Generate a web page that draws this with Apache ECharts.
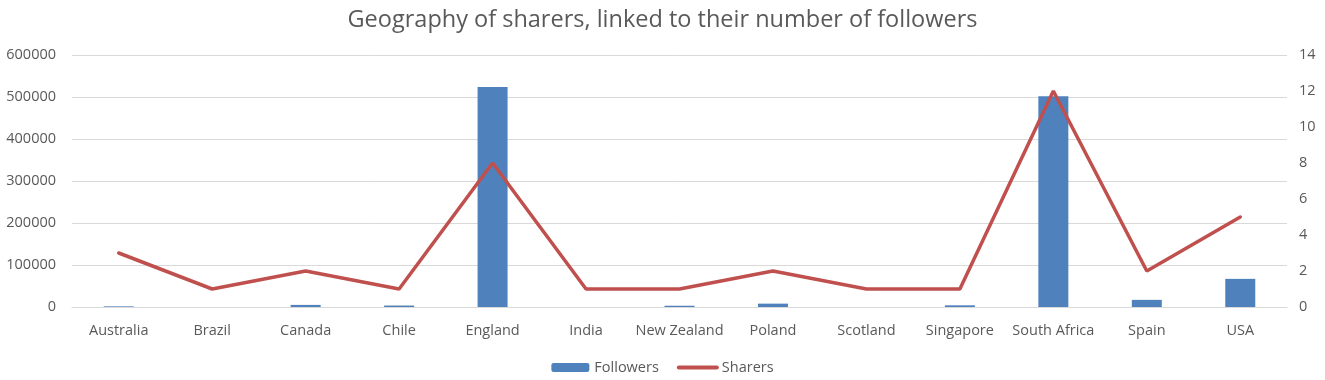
<!DOCTYPE html>
<html>
<head>
<meta charset="utf-8">
<script src="https://cdn.jsdelivr.net/npm/echarts@6/dist/echarts.min.js"></script>
<style>
  html, body { margin: 0; padding: 0; background: #fff; }
  #chart { width: 1325px; height: 380px; }
</style>
</head>
<body>
<div id="chart"></div>
<script>
// categories
var countries = ['Australia', 'Brazil', 'Canada', 'Chile', 'England', 'India', 'New Zealand',
    'Poland', 'Scotland', 'Singapore', 'South Africa', 'Spain', 'USA'];
// followers (left axis)
var followers = [1500, 0, 5000, 3500, 524000, 0, 3000, 8000, 0, 4000, 502000, 17000, 67000];
// sharers (right axis)
var sharers = [3, 1, 2, 1, 8, 1, 1, 2, 1, 1, 12, 2, 5];

var txt = '#595959';
var font = 'Open Sans, Liberation Sans, sans-serif';

var myChart = echarts.init(document.getElementById('chart'));
var option = {
    animation: false,
    title: {
        text: 'Geography of sharers, linked to their number of followers',
        left: 'center',
        top: 3,
        textStyle: { color: txt, fontSize: 23.5, fontWeight: 'normal', fontFamily: font }
    },
    legend: {
        bottom: 0,
        left: 'center',
        itemGap: 18,
        itemWidth: 38,
        itemHeight: 9,
        textStyle: { color: txt, fontSize: 14.5, fontFamily: font },
        data: [
            'Followers',
            // hide the dot drawn on the line icon
            { name: 'Sharers',
              itemStyle: { color: 'rgba(0,0,0,0)', borderWidth: 0, opacity: 0 },
              lineStyle: { width: 4, cap: 'round' } }
        ]
    },
    grid: { left: 72, right: 38, top: 55, bottom: 73 },
    xAxis: {
        type: 'category',
        data: countries,
        axisLine: { lineStyle: { color: '#d9d9d9' } },
        axisTick: { show: false },
        axisLabel: { color: txt, fontSize: 14.5, fontFamily: font, margin: 16, interval: 0 }
    },
    yAxis: [{
        type: 'value',
        min: 0, max: 600000, interval: 100000,
        axisLine: { show: false },
        axisTick: { show: false },
        axisLabel: { color: txt, fontSize: 14.5, fontFamily: font, margin: 16,
            formatter: function (v) { return String(v); } },
        splitLine: { lineStyle: { color: '#d9d9d9' } }
    }, {
        type: 'value',
        min: 0, max: 14, interval: 2,
        axisLine: { show: false },
        axisTick: { show: false },
        axisLabel: { color: txt, fontSize: 14.5, fontFamily: font, margin: 12 },
        splitLine: { show: false }
    }],
    series: [{
        name: 'Followers',
        type: 'bar',
        data: followers,
        barWidth: 30,
        itemStyle: { color: '#4f81bd' }
    }, {
        name: 'Sharers',
        type: 'line',
        yAxisIndex: 1,
        data: sharers,
        symbol: 'none',
        lineStyle: { color: '#c0504d', width: 3.5, cap: 'round' },
        itemStyle: { color: '#c0504d' }
    }]
};
myChart.setOption(option);
</script>
</body>
</html>
